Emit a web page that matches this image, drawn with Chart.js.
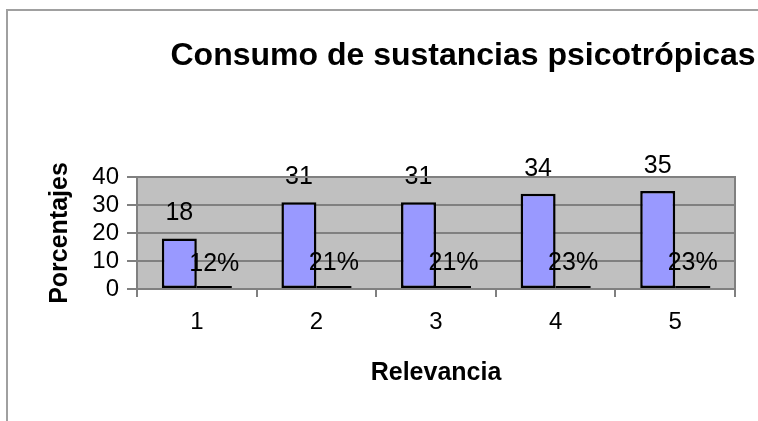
<!DOCTYPE html>
<html>
<head>
<meta charset="utf-8">
<script src="https://cdn.jsdelivr.net/npm/chart.js@4"></script>
<style>
  body { margin: 0; background: #fff; }
  canvas { display: block; }
</style>
</head>
<body>
<canvas id="myChart" width="758" height="421"></canvas>
<script>
// data
const relevancia = ["1", "2", "3", "4", "5"];
const porcentajes = [18, 31, 31, 34, 35];
const proporcion = [0.12, 0.21, 0.21, 0.23, 0.23];
const yTicks = [0, 10, 20, 30, 40];

const chartTitle = "Consumo de sustancias psicotrópicas";
const fontFamily = "'Liberation Sans', Arial, Helvetica, sans-serif";

Chart.defaults.font.family = fontFamily;
Chart.defaults.color = "#000";

// outer frame, grey plot area and the chart title
const frame = {
  id: "frame",
  beforeDraw(chart) {
    const ctx = chart.ctx;
    const area = chart.chartArea;
    ctx.save();
    ctx.fillStyle = "#fff";
    ctx.fillRect(0, 0, chart.width, chart.height);
    ctx.strokeStyle = "#a0a0a0";
    ctx.lineWidth = 2;
    ctx.beginPath();
    ctx.moveTo(7, chart.height);
    ctx.lineTo(7, 10);
    ctx.lineTo(chart.width, 10);
    ctx.stroke();
    ctx.fillStyle = "#c0c0c0";
    ctx.fillRect(area.left, area.top, area.right - area.left, area.bottom - area.top);
    ctx.restore();
  },
  afterDraw(chart) {
    const ctx = chart.ctx;
    const area = chart.chartArea;
    ctx.save();
    ctx.strokeStyle = "#808080";
    ctx.lineWidth = 2;
    ctx.beginPath();
    ctx.moveTo(area.left, area.top);
    ctx.lineTo(area.right, area.top);
    ctx.lineTo(area.right, area.bottom);
    ctx.stroke();
    ctx.fillStyle = "#000";
    ctx.font = "bold 32px " + fontFamily;
    ctx.textAlign = "center";
    ctx.textBaseline = "middle";
    ctx.fillText(chartTitle, 463, 56);
    ctx.restore();
  }
};

// value labels above each bar
const valueLabels = {
  id: "valueLabels",
  afterDatasetsDraw(chart) {
    const ctx = chart.ctx;
    const yScale = chart.scales.y;
    ctx.save();
    ctx.fillStyle = "#000";
    ctx.font = "25px " + fontFamily;
    ctx.textAlign = "center";
    ctx.textBaseline = "middle";
    chart.data.datasets.forEach(function (ds, i) {
      const meta = chart.getDatasetMeta(i);
      meta.data.forEach(function (bar, j) {
        const v = ds.data[j];
        const text = i === 0 ? String(v) : Math.round(v * 100) + "%";
        ctx.fillText(text, bar.x, yScale.getPixelForValue(v) - 25);
      });
    });
    ctx.restore();
  }
};

const ctx = document.getElementById("myChart").getContext("2d");
window.chart = new Chart(ctx, {
  type: "bar",
  data: {
    labels: relevancia,
    datasets: [
      {
        label: "Porcentajes",
        data: porcentajes,
        backgroundColor: "#9999ff",
        borderColor: "#000",
        borderWidth: 2.5,
        borderSkipped: false,
        categoryPercentage: 0.585,
        barPercentage: 1
      },
      {
        label: "Proporción",
        data: proporcion,
        backgroundColor: "#000",
        borderWidth: 0,
        minBarLength: 3,
        categoryPercentage: 0.585,
        barPercentage: 1
      }
    ]
  },
  options: {
    responsive: false,
    animation: false,
    layout: { padding: { top: 177, right: 23, bottom: 0, left: 0 } },
    plugins: {
      legend: { display: false },
      tooltip: { enabled: false },
      title: { display: false }
    },
    scales: {
      x: {
        grid: {
          offset: true,
          drawOnChartArea: false,
          drawTicks: true,
          tickLength: 8,
          color: "#808080",
          lineWidth: 2
        },
        border: { color: "#808080", width: 2 },
        ticks: { font: { size: 24 }, padding: 11 },
        title: {
          display: true,
          text: "Relevancia",
          font: { size: 25, weight: "bold" },
          padding: { top: 0, bottom: 33 }
        },
        afterFit(scale) {
          scale.height = 132;
        }
      },
      y: {
        min: 0,
        max: 40,
        afterBuildTicks(scale) {
          scale.ticks = yTicks.map(function (v) { return { value: v }; });
        },
        grid: {
          color: "#808080",
          lineWidth: 2,
          tickLength: 10
        },
        border: { color: "#808080", width: 2 },
        ticks: { font: { size: 24 }, padding: 8, autoSkip: false },
        title: {
          display: true,
          text: "Porcentajes",
          font: { size: 25, weight: "bold" },
          padding: { top: 45, bottom: 0 }
        },
        afterFit(scale) {
          scale.width = 137;
        }
      }
    }
  },
  plugins: [frame, valueLabels]
});
</script>
</body>
</html>
